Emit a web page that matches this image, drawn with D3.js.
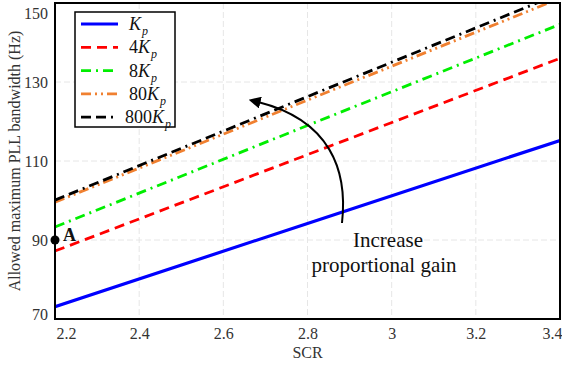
<!DOCTYPE html>
<html>
<head>
<meta charset="utf-8">
<script src="https://cdnjs.cloudflare.com/ajax/libs/d3/7.8.5/d3.min.js"></script>
<style>
  html, body { margin: 0; padding: 0; background: #fff; }
  svg { display: block; font-family: "Liberation Serif", "Times New Roman", serif; }
</style>
</head>
<body>
<svg id="chart" width="562" height="368"></svg>
<script>
// SCR sweep and allowed PLL bandwidth (Hz) for each proportional gain
const scr = [2.2, 2.8, 3.4];
const bwKp = [73.1, 94.2, 115.2];
const bw4Kp = [87.2, 111.6, 136.0];
const bw8Kp = [93.3, 119.0, 144.6];
const bw80Kp = [99.6, 125.4, 151.2];
const bw800Kp = [100.1, 126.3, 152.4];

const gainLabels = ["", "4", "8", "80", "800"];
const xTicks = [2.2, 2.4, 2.6, 2.8, 3.0, 3.2, 3.4];
const yTicks = [70, 90, 110, 130, 150];
const pointA = { scr: 2.2, bw: 90, label: "A" };

const series = [
  { values: bwKp, color: "#0000ff", dash: null, width: 3.2 },
  { values: bw4Kp, color: "#ff0000", dash: "10,6", width: 2.8 },
  { values: bw8Kp, color: "#00ee00", dash: "10,5,2,5", width: 2.8 },
  { values: bw80Kp, color: "#f08030", dash: "10,4,2,4,2,4", width: 2.8 },
  { values: bw800Kp, color: "#000000", dash: "10,5,10,5,2,5", width: 2.8 }
];

const svg = d3.select("#chart");
const plotLeft = 55, plotRight = 560, plotTop = 3, plotBottom = 319;

const x = d3.scaleLinear().domain([2.2, 3.4]).range([plotLeft, plotRight]);
const y = d3.scaleLinear().domain([70, 150]).range([plotBottom, plotTop]);

const defs = svg.append("defs");
defs.append("clipPath").attr("id", "plot-clip")
  .append("rect").attr("x", plotLeft).attr("y", plotTop)
  .attr("width", plotRight - plotLeft).attr("height", plotBottom - plotTop);

// grid
const grid = svg.append("g").attr("stroke", "#e6e6e6").attr("stroke-width", 1)
  .attr("stroke-dasharray", "6,3");
grid.selectAll(".gx").data(xTicks.slice(1, -1)).join("line")
  .attr("x1", d => x(d)).attr("x2", d => x(d))
  .attr("y1", plotTop).attr("y2", plotBottom);
grid.selectAll(".gy").data(yTicks.slice(1, -1)).join("line")
  .attr("y1", d => y(d)).attr("y2", d => y(d))
  .attr("x1", plotLeft).attr("x2", plotRight);

// axes
const xAxis = svg.append("g").attr("transform", `translate(0,${plotBottom})`)
  .call(d3.axisBottom(x).tickValues(xTicks).tickSize(0).tickPadding(9)
    .tickFormat(d => d === 3 ? "3" : d3.format(".1f")(d)));
xAxis.select(".domain").remove();
xAxis.selectAll("text").attr("font-size", 16).attr("fill", "#333")
  .attr("font-family", "Liberation Serif, serif")
  .attr("dx", (d, i) => i === 0 ? 11 : (i === xTicks.length - 1 ? -8 : 0));

const yAxis = svg.append("g").attr("transform", `translate(${plotLeft},0)`)
  .call(d3.axisLeft(y).tickValues(yTicks).tickSize(0).tickPadding(7));
yAxis.select(".domain").remove();
yAxis.selectAll("text").attr("font-size", 16).attr("fill", "#333")
  .attr("font-family", "Liberation Serif, serif")
  .attr("dy", d => d === 150 ? "0.95em" : (d === 70 ? "0.05em" : "0.32em"));

// series lines
const line = d3.line().x((d, i) => x(scr[i])).y(d => y(d));
const plot = svg.append("g").attr("clip-path", "url(#plot-clip)");
series.forEach(s => {
  plot.append("path").datum(s.values)
    .attr("d", line).attr("fill", "none")
    .attr("stroke", s.color).attr("stroke-width", s.width)
    .attr("stroke-dasharray", s.dash);
});

// frame
svg.append("rect").attr("x", plotLeft).attr("y", plotTop)
  .attr("width", plotRight - plotLeft).attr("height", plotBottom - plotTop)
  .attr("fill", "none").attr("stroke", "#000").attr("stroke-width", 2);

// axis titles
svg.append("text").attr("x", x(2.8)).attr("y", 358)
  .attr("text-anchor", "middle").attr("font-size", 16).attr("fill", "#333")
  .text("SCR");
svg.append("text").attr("transform", `translate(20,${y(110)}) rotate(-90)`)
  .attr("text-anchor", "middle").attr("font-size", 16).attr("fill", "#333")
  .text("Allowed maximum PLL bandwidth (Hz)");

// operating point A
svg.append("circle").attr("cx", x(pointA.scr)).attr("cy", y(pointA.bw)).attr("r", 4.5)
  .attr("fill", "#000");
svg.append("text").attr("x", x(pointA.scr) + 8).attr("y", y(pointA.bw) + 1)
  .attr("font-size", 18).attr("font-weight", "bold").attr("fill", "#111")
  .text(pointA.label);

// annotation arrow
defs.append("marker").attr("id", "arrowhead")
  .attr("viewBox", "0 0 10 10").attr("refX", 2).attr("refY", 5)
  .attr("markerWidth", 6).attr("markerHeight", 6).attr("orient", "auto")
  .append("path").attr("d", "M0,0 L10,5 L0,10 z").attr("fill", "#000");
svg.append("path").attr("d", "M342,223 C348,170 330,120 258,102")
  .attr("fill", "none").attr("stroke", "#000").attr("stroke-width", 2)
  .attr("marker-end", "url(#arrowhead)");
const note = svg.append("text").attr("text-anchor", "middle")
  .attr("font-size", 21).attr("fill", "#111");
note.append("tspan").attr("x", 388).attr("y", 247).text("Increase");
note.append("tspan").attr("x", 384).attr("y", 272).text("proportional gain");

// legend
const legend = svg.append("g");
legend.append("rect").attr("x", 75).attr("y", 12).attr("width", 100).attr("height", 115)
  .attr("fill", "#fff").attr("stroke", "#000").attr("stroke-width", 1.5);
series.forEach((s, i) => {
  const ly = 24 + i * 23.3;
  legend.append("line").attr("x1", 81).attr("x2", 118).attr("y1", ly).attr("y2", ly)
    .attr("stroke", s.color).attr("stroke-width", s.width)
    .attr("stroke-dasharray", s.dash);
  const t = legend.append("text").attr("x", i === 4 ? 125 : 129).attr("y", ly + 6)
    .attr("font-size", 18).attr("fill", "#111");
  t.append("tspan").text(gainLabels[i]);
  t.append("tspan").attr("font-style", "italic").text("K");
  t.append("tspan").attr("font-style", "italic").attr("font-size", 12)
    .attr("dy", 5).attr("dx", 1).text("p");
});
</script>
</body>
</html>
